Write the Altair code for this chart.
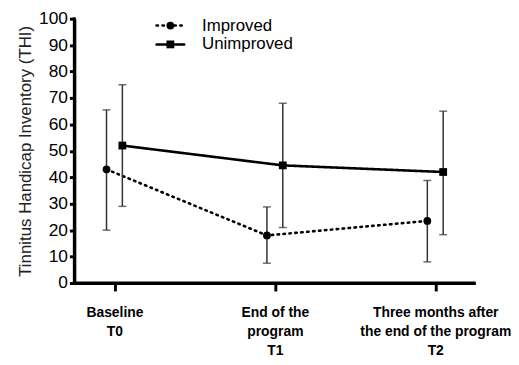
import altair as alt
import pandas as pd

# ---- data ----
times = [0, 1, 2]
time_labels = [
    ["Baseline", "T0"],
    ["End of the", "program", "T1"],
    ["Three months after", "the end of the program", "T2"],
]
groups = ["Improved", "Unimproved"]
improved_mean = [43, 18, 23.5]
improved_lo = [20, 7.5, 8]
improved_hi = [65.5, 28.8, 38.8]
unimproved_mean = [52, 44.5, 42]
unimproved_lo = [29, 21, 18.3]
unimproved_hi = [75, 68, 65]
y_ticks = list(range(0, 101, 10))

rows = []
for g, m, lo, hi in [
    ("Improved", improved_mean, improved_lo, improved_hi),
    ("Unimproved", unimproved_mean, unimproved_lo, unimproved_hi),
]:
    for t, mm, l, h in zip(times, m, lo, hi):
        rows.append({"group": g, "t": t, "mean": mm, "lo": l, "hi": h})
df = pd.DataFrame(rows)
ytick_df = pd.DataFrame({"v": y_ticks})
xtick_df = pd.DataFrame({"t": times})

FONT = "Liberation Sans"
W, H = 405, 267

label_js = "[" + ",".join("[" + ",".join("'" + s + "'" for s in lab) + "]" for lab in time_labels) + "]"

x_scale = alt.Scale(domain=[-0.25, 2.25], nice=False, zero=False)
y_scale = alt.Scale(domain=[0, 100], nice=False)

x_axis = alt.Axis(
    values=times, labelExpr=label_js + "[datum.value]", title=None,
    domain=True, domainColor="black", domainWidth=3,
    ticks=True, tickSize=8, tickColor="black", tickWidth=3, zindex=1,
    labelFontWeight="bold", labelFontSize=14, labelPadding=15,
    labelLineHeight=19, labelBaseline="top", labelColor="black",
)
y_axis = alt.Axis(
    values=y_ticks, title="Tinnitus Handicap Inventory (THI)",
    domain=True, domainColor="black", domainWidth=3,
    ticks=True, tickSize=5, tickColor="black", tickWidth=3, zindex=1,
    labelFontSize=17.5, labelPadding=2, labelOverlap=False, labelColor="black",
    titleFontSize=17, titleFontWeight="normal", titlePadding=4, titleColor="#222",
)


def X(field="t"):
    return alt.X(field + ":Q", scale=x_scale, axis=x_axis)


def Y(field):
    return alt.Y(field + ":Q", scale=y_scale, axis=y_axis)


styles = {
    "Improved": dict(off=-8, dash=[1.5, 4.5], shape="circle", size=62),
    "Unimproved": dict(off=8, dash=[1, 0], shape="square", size=62),
}

layers = []
for g in groups:
    s = styles[g]
    base = alt.Chart(df).transform_filter(alt.datum.group == g)
    layers.append(base.mark_line(color="black", strokeWidth=2.6, strokeDash=s["dash"],
                                 strokeCap="round", xOffset=s["off"]).encode(x=X(), y=Y("mean")))
    layers.append(base.mark_rule(color="#333", strokeWidth=1.5, xOffset=s["off"]).encode(
        x=X(), y=Y("lo"), y2="hi:Q"))
    layers.append(base.mark_tick(color="#333", thickness=1.5, size=8, orient="horizontal",
                                 xOffset=s["off"]).encode(x=X(), y=Y("lo")))
    layers.append(base.mark_tick(color="#333", thickness=1.5, size=8, orient="horizontal",
                                 xOffset=s["off"]).encode(x=X(), y=Y("hi")))
    layers.append(base.mark_point(color="black", filled=True, opacity=1, shape=s["shape"],
                                  size=s["size"], xOffset=s["off"]).encode(x=X(), y=Y("mean")))

# black, thick axis lines drawn as filled rects on top
layers.append(alt.Chart(ytick_df).transform_filter(alt.datum.v == 0).mark_rect(
    color="black", opacity=1).encode(
    x=alt.value(-1.5), x2=alt.value(1.5), y=alt.value(-1.5), y2=alt.value(H + 1.5)))
layers.append(alt.Chart(ytick_df).transform_filter(alt.datum.v == 0).mark_rect(
    color="black", opacity=1).encode(
    x=alt.value(-1.5), x2=alt.value(W), y=alt.value(H - 1.5), y2=alt.value(H + 1.5)))

# ---- legend ----
leg_df = pd.DataFrame({"group": groups})
leg_y = {"Improved": 7, "Unimproved": 26}
for g in groups:
    s = styles[g]
    lb = alt.Chart(leg_df).transform_filter(alt.datum.group == g)
    layers.append(lb.mark_rule(color="black", strokeWidth=2.5, strokeDash=s["dash"],
                               strokeCap="round").encode(
        x=alt.value(83), x2=alt.value(111), y=alt.value(leg_y[g])))
    layers.append(lb.mark_point(color="black", filled=True, opacity=1, shape=s["shape"],
                                size=s["size"]).encode(x=alt.value(97), y=alt.value(leg_y[g])))
    layers.append(lb.mark_text(align="left", baseline="middle", font=FONT, fontSize=17,
                               color="black").encode(
        x=alt.value(129), y=alt.value(leg_y[g]), text="group:N"))

chart = (
    alt.layer(*layers)
    .properties(
        width=W, height=H,
        autosize=alt.AutoSizeParams(type="none"),
        padding={"top": 9, "left": 67, "right": 36, "bottom": 80},
    )
    .configure_view(stroke=None)
    .configure_axis(grid=False, labelFont=FONT, titleFont=FONT, labelColor="black",
                    domainColor="black", domainWidth=3, tickColor="black", tickWidth=3)
)
chart.save("out.html", embed_options={"renderer": "svg", "actions": False})
